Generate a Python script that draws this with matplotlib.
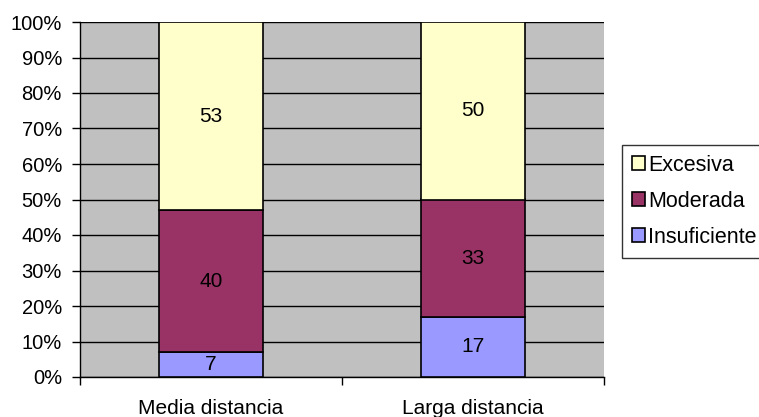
import matplotlib.pyplot as plt
import numpy as np

# categories and series
categories = ['Media distancia', 'Larga distancia']
insuficiente = [7, 17]
moderada = [40, 33]
excesiva = [53, 50]

plt.rcParams['font.family'] = ['Liberation Sans', 'DejaVu Sans']

fig = plt.figure(figsize=(7.59, 4.17), dpi=100)
ax = fig.add_axes([80 / 759, 1 - 377 / 417, 524 / 759, 355 / 417])
ax.set_facecolor('#C0C0C0')

x = np.arange(len(categories))
width = 0.4
series = [('Insuficiente', insuficiente, '#9999FF'),
          ('Moderada', moderada, '#993366'),
          ('Excesiva', excesiva, '#FFFFCC')]

totals = np.array(insuficiente) + np.array(moderada) + np.array(excesiva)
bottom = np.zeros(len(categories))
handles = []
for name, vals, color in series:
    pct = np.array(vals) / totals * 100
    bars = ax.bar(x, pct, width, bottom=bottom, color=color, edgecolor='black',
                  linewidth=1.2, label=name, zorder=3)
    for xi, b, p, v in zip(x, bottom, pct, vals):
        ax.text(xi, b + p / 2, str(v), ha='center', va='center', fontsize=15, zorder=4)
    bottom += pct
    handles.append(bars)

ax.set_xlim(-0.5, len(categories) - 0.5)
ax.set_ylim(0, 100)
ax.set_yticks(np.arange(0, 101, 10))
ax.set_yticklabels([f'{v}%' for v in range(0, 101, 10)])
ax.yaxis.grid(True, color='black', linewidth=1, zorder=1)
ax.set_axisbelow(True)

# ticks on category boundaries, labels in between
ax.set_xticks(np.arange(-0.5, len(categories), 1))
ax.set_xticklabels([])
ax.set_xticks(x, minor=True)
ax.set_xticklabels(categories, minor=True)
ax.tick_params(axis='x', which='major', length=6, width=1, direction='out')
ax.tick_params(axis='x', which='minor', length=0, pad=16, labelsize=15)
ax.tick_params(axis='y', length=6, width=1, direction='out', labelsize=14.5, pad=7)

for s in ['top', 'right']:
    ax.spines[s].set_visible(False)
for s in ['left', 'bottom']:
    ax.spines[s].set_linewidth(1)

leg = fig.legend(handles[::-1], [h.get_label() for h in handles[::-1]],
                 loc='upper left', bbox_to_anchor=(622 / 759, 1 - 145 / 417),
                 fontsize=15.5, frameon=True, fancybox=False, edgecolor='black',
                 handlelength=0.62, handleheight=0.62, handletextpad=0.15,
                 borderpad=0.45, labelspacing=0.7, borderaxespad=0)
leg.get_frame().set_linewidth(1)

fig.savefig('out.png', dpi=100)
